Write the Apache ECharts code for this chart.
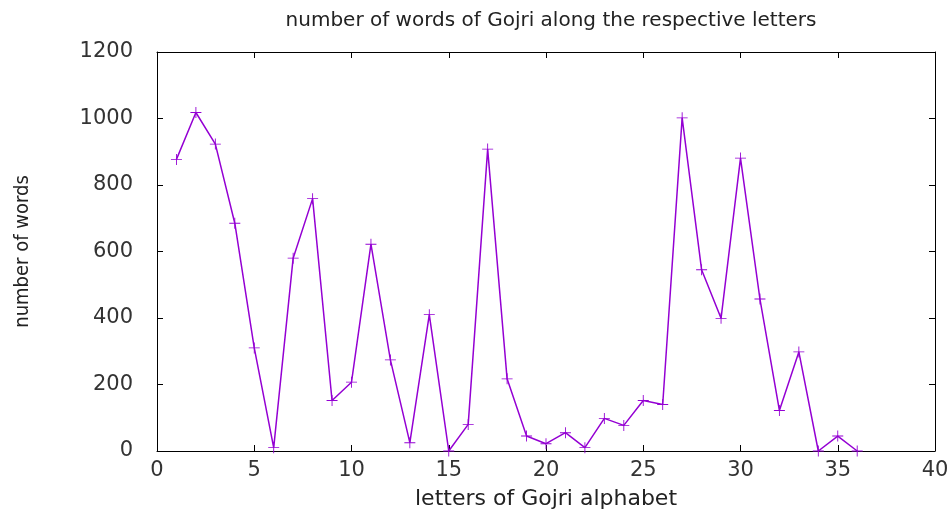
<!DOCTYPE html>
<html lang="en">
<head>
<meta charset="UTF-8">
<title>Gojri letters</title>
<script src="https://cdn.jsdelivr.net/npm/echarts@6/dist/echarts.min.js"></script>
<style>
	html, body { margin: 0; padding: 0; background: #fff; }
	#chart { width: 948px; height: 512px; }
</style>
</head>
<body>
	<div id="chart"></div>
	<script type="text/javascript">
		// letters 1..36 and word counts
		var letters = [1, 2, 3, 4, 5, 6, 7, 8, 9, 10, 11, 12, 13, 14, 15, 16, 17, 18,
			19, 20, 21, 22, 23, 24, 25, 26, 27, 28, 29, 30, 31, 32, 33, 34, 35, 36];
		var words = [877, 1018, 923, 685, 310, 10, 580, 759, 152, 207, 622, 274, 25, 410, 0, 80, 908, 217,
			45, 22, 55, 10, 98, 77, 152, 140, 1002, 545, 399, 881, 457, 122, 298, 0, 45, 0];
		var xTicks = [0, 5, 10, 15, 20, 25, 30, 35, 40];
		var yTicks = [0, 200, 400, 600, 800, 1000, 1200];

		var lineColor = '#9400d3';
		var font = 'DejaVu Sans';
		var plus = 'path://M0,4.6H10V5.4H0Z M4.6,0H5.4V10H4.6Z';

		var data = letters.map(function(l, i) { return [l, words[i]]; });

		var mychar = echarts.init(document.getElementById('chart'));

		var axisLine = { show: true, onZero: false, lineStyle: { color: '#000', width: 1 } };
		var ticks = { show: true, inside: true, length: 6, lineStyle: { color: '#000' } };
		var plain = function(v) { return String(v); };

		var option = {
			animation: false,
			title: {
				text: 'number of words of Gojri along the respective letters',
				left: 546, top: 6, textAlign: 'center',
				textStyle: { fontFamily: font, fontSize: 20, fontWeight: 'normal', color: '#222' }
			},
			grid: { left: 157, right: 13, top: 52, bottom: 61, outerBoundsMode: 'none', containLabel: false },
			xAxis: [{
				type: 'value', min: xTicks[0], max: xTicks[xTicks.length - 1], interval: 5,
				name: 'letters of Gojri alphabet', nameLocation: 'middle', nameGap: 37,
				nameTextStyle: { fontFamily: font, fontSize: 22, color: '#222' },
				axisLine: axisLine, axisTick: ticks, splitLine: { show: false },
				axisLabel: { fontFamily: font, fontSize: 21, color: '#333', margin: 9, formatter: plain }
			}, {
				type: 'value', position: 'top', min: xTicks[0], max: xTicks[xTicks.length - 1], interval: 5,
				axisLine: axisLine, axisTick: ticks, splitLine: { show: false },
				axisLabel: { show: false }
			}],
			yAxis: [{
				type: 'value', min: yTicks[0], max: yTicks[yTicks.length - 1], interval: 200,
				name: 'number of words', nameLocation: 'middle', nameGap: 124,
				nameTextStyle: { fontFamily: 'Liberation Sans Narrow, DejaVu Sans Condensed', fontSize: 20, color: '#222' },
				axisLine: axisLine, axisTick: ticks, splitLine: { show: false },
				axisLabel: { fontFamily: font, fontSize: 21, color: '#333', margin: 24, formatter: plain }
			}, {
				type: 'value', position: 'right', min: yTicks[0], max: yTicks[yTicks.length - 1], interval: 200,
				axisLine: axisLine, axisTick: ticks, splitLine: { show: false },
				axisLabel: { show: false }
			}],
			series: [{
				type: 'line',
				data: data,
				symbol: plus,
				symbolSize: 11,
				showAllSymbol: true,
				itemStyle: { color: lineColor },
				lineStyle: { color: lineColor, width: 1.5 }
			}]
		};
		mychar.setOption(option);
	</script>
</body>
</html>
